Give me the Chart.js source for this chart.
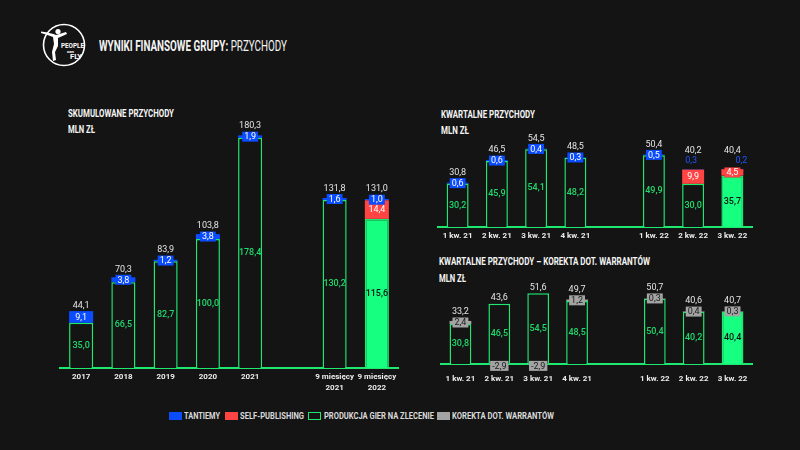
<!DOCTYPE html>
<html><head><meta charset="utf-8">
<script src="https://cdn.jsdelivr.net/npm/chart.js@4.4.1/dist/chart.umd.min.js"></script>
<style>
html,body{margin:0;padding:0;background:#141414;width:800px;height:450px;overflow:hidden;}
.t{position:absolute;color:#f4f4f4;font-family:Roboto,'Liberation Sans',sans-serif;font-weight:bold;white-space:nowrap;line-height:1;transform-origin:0 0;}
.lg{position:absolute;top:411.5px;height:8.5px;}
.lt{position:absolute;top:411.5px;color:#dadada;font-family:Roboto,'Liberation Sans',sans-serif;font-weight:bold;font-size:8.2px;line-height:1;white-space:nowrap;transform-origin:0 0;}
canvas{position:absolute;}
</style></head><body>

<svg style="position:absolute;left:34px;top:20px" width="60" height="54" viewBox="34 20 60 54">
  <circle cx="64" cy="45" r="20.5" fill="none" stroke="#fff" stroke-width="1.6"/>
  <path d="M41 31.5 Q52 33 56 35 L66 32 L67 34 L58 38 L58 46 L55 52 L56 60 L53 61 L52 52 L54 44 L53 37 Q48 35 41 33 Z" fill="#fff"/>
  <circle cx="58" cy="31.5" r="2.6" fill="#fff"/>
  <text x="61" y="48.3" textLength="23" lengthAdjust="spacingAndGlyphs" font-family="Roboto, sans-serif" font-weight="bold" font-size="8" fill="#fff">PEOPLE</text>
  <text x="67" y="53" textLength="7" lengthAdjust="spacingAndGlyphs" font-family="Roboto, sans-serif" font-weight="bold" font-size="3.5" fill="#fff">can</text>
  <text x="70" y="59.3" textLength="12" lengthAdjust="spacingAndGlyphs" font-family="Roboto, sans-serif" font-weight="bold" font-size="8" fill="#fff">FLY</text>
</svg>

<div class="t" data-w="188" style="left:99px;top:39px;font-size:14px;">WYNIKI FINANSOWE GRUPY: <span style="font-weight:normal">PRZYCHODY</span></div>

<div class="t" data-w="106" style="left:68px;top:108.7px;font-size:10px;">SKUMULOWANE PRZYCHODY</div>
<div class="t" data-w="27" style="left:68px;top:124.7px;font-size:10px;">MLN ZŁ</div>

<div class="t" data-w="94" style="left:440.7px;top:109.7px;font-size:10px;">KWARTALNE PRZYCHODY</div>
<div class="t" data-w="28" style="left:440.7px;top:126px;font-size:10px;">MLN ZŁ</div>

<div class="t" data-w="211" style="left:439.3px;top:257px;font-size:10px;">KWARTALNE PRZYCHODY – KOREKTA DOT. WARRANTÓW</div>
<div class="t" data-w="27" style="left:439.3px;top:273.7px;font-size:10px;">MLN ZŁ</div>

<canvas id="c1" width="358" height="280" style="left:50px;top:120px;"></canvas>
<canvas id="c2" width="334" height="117" style="left:428px;top:130px;"></canvas>
<canvas id="c3" width="331" height="108" style="left:431px;top:280px;"></canvas>

<div class="lg" style="left:169px;width:13px;background:#0b4cff;"></div>
<div class="lt" data-w="36" style="left:184px;">TANTIEMY</div>
<div class="lg" style="left:225px;width:13px;background:#ff4444;"></div>
<div class="lt" data-w="64" style="left:240px;">SELF-PUBLISHING</div>
<div class="lg" style="left:308px;width:11px;height:6.5px;border:1px solid #1fe870;"></div>
<div class="lt" data-w="110" style="left:324px;">PRODUKCJA GIER NA ZLECENIE</div>
<div class="lg" style="left:437px;width:13px;background:#a3a3a3;"></div>
<div class="lt" data-w="102" style="left:452px;">KOREKTA DOT. WARRANTÓW</div>

<script>
// ---- data ----
const cumCategories = ['2017', '2018', '2019', '2020', '2021', '', ['9 miesięcy', '2021'], ['9 miesięcy', '2022']];
const cumProduction = [35.0, 66.5, 82.7, 100.0, 178.4, null, 130.2, 115.6];
const cumSelfPublishing = [0, 0, 0, 0, 0, null, 0, 14.4];
const cumTantiemy = [9.1, 3.8, 1.2, 3.8, 1.9, null, 1.6, 1.0];
const cumTotals = [44.1, 70.3, 83.9, 103.8, 180.3, null, 131.8, 131.0];

const qCategories = ['1 kw. 21', '2 kw. 21', '3 kw. 21', '4 kw. 21', '', '1 kw. 22', '2 kw. 22', '3 kw. 22'];
const qProduction = [30.2, 45.9, 54.1, 48.2, null, 49.9, 30.0, 35.7];
const qSelfPublishing = [0, 0, 0, 0, null, 0, 9.9, 4.5];
const qTantiemy = [0.6, 0.6, 0.4, 0.3, null, 0.5, 0.3, 0.2];
const qTotals = [30.8, 46.5, 54.5, 48.5, null, 50.4, 40.2, 40.4];

const adjProduction = [30.8, 46.5, 54.5, 48.5, null, 50.4, 40.2, 40.4];
const adjWarrants = [2.4, -2.9, -2.9, 1.2, null, 0.3, 0.4, 0.3];
const adjTotals = [33.2, 43.6, 51.6, 49.7, null, 50.7, 40.6, 40.7];

// ---- text fitting ----
function fitText() {
  document.querySelectorAll('[data-w]').forEach(el => {
    el.style.transform = 'none';
    const w = el.getBoundingClientRect().width;
    if (w > 0) el.style.transform = 'scaleX(' + (parseFloat(el.dataset.w) / w) + ')';
  });
}
fitText();
if (document.fonts && document.fonts.ready) document.fonts.ready.then(fitText);

// ---- styles ----
const BG = '#141414';
const GREEN_LINE = '#1fe870';
const GREEN_FILL = '#17ff80';
const GREEN_TEXT = '#20d86c';
const BLUE = '#0b4cff';
const BLUE_TEXT = '#1f55ff';
const RED = '#ff4444';
const GRAY = '#a3a3a3';

const fmt = v => v.toFixed(1).replace('.', ',');

// plainOffsets: category indices where the tiny royalty value is written as plain text above the bar (value = x shift)
function valueLabels(totals, plainOffsets) {
  return {
    id: 'valueLabels',
    afterDatasetsDraw(chart) {
      const ctx = chart.ctx;
      const last = chart.data.labels.length - 1;
      ctx.save();
      ctx.textAlign = 'center';
      ctx.textBaseline = 'middle';
      for (let i = 0; i <= last; i++) {
        if (totals[i] == null) continue;
        let x = 0, stackTop = Infinity;
        chart.data.datasets.forEach((ds, d) => {
          const v = ds.data[i];
          const el = chart.getDatasetMeta(d).data[i];
          if (v == null || !el) return;
          x = el.x;
          if (v > 0) stackTop = Math.min(stackTop, el.y);
        });
        let top = stackTop;
        const plain = plainOffsets && (i in plainOffsets);
        chart.data.datasets.forEach((ds, d) => {
          const v = ds.data[i];
          const el = chart.getDatasetMeta(d).data[i];
          if (v == null || v === 0 || !el) return;
          const cy = (el.y + el.base) / 2;
          if (ds.kind === 'prod') {
            ctx.font = '500 9px Roboto';
            ctx.fillStyle = i === last ? '#101010' : GREEN_TEXT;
            ctx.fillText(fmt(v), el.x, cy);
          } else if (ds.kind === 'tant' && plain) {
            const py = stackTop - 8.5;
            ctx.font = '9px Roboto';
            ctx.fillStyle = BLUE_TEXT;
            ctx.fillText(fmt(v), el.x + plainOffsets[i], py);
            top = Math.min(top, py - 4.5);
          } else {
            ctx.font = '9px Roboto';
            const w = ctx.measureText(fmt(v)).width + 4;
            ctx.fillStyle = ds.backgroundColor;
            ctx.fillRect(el.x - w / 2, cy - 5, w, 10);
            ctx.fillStyle = ds.kind === 'gray' ? '#1a1a1a' : '#ffffff';
            ctx.fillText(fmt(v), el.x, cy + 0.5);
            if (v > 0) top = Math.min(top, cy - 5);
          }
        });
        ctx.font = '9px Roboto';
        ctx.fillStyle = '#e4e4e4';
        ctx.fillText(fmt(totals[i]), x, top - 5.5);
      }
      ctx.restore();
    }
  };
}

function prodDataset(data) {
  return {
    kind: 'prod', data,
    backgroundColor: c => c.dataIndex === c.chart.data.labels.length - 1 ? GREEN_FILL : BG,
    borderColor: GREEN_LINE, borderWidth: 1.5, borderSkipped: 'bottom'
  };
}

function options(ymax, xHeight, tickPad, barPct) {
  return {
    responsive: false, animation: false,
    layout: { padding: { left: 10, right: 10, top: 0, bottom: 0 } },
    plugins: { legend: { display: false }, tooltip: { enabled: false } },
    datasets: { bar: { categoryPercentage: 1, barPercentage: barPct } },
    scales: {
      x: {
        stacked: true, offset: true,
        grid: { display: false, drawTicks: false },
        border: { display: true, color: GREEN_LINE, width: 2 },
        ticks: { color: '#ececec', font: { family: 'Roboto', size: 8, weight: 'bold', lineHeight: 1.35 }, padding: tickPad, autoSkip: false, maxRotation: 0 },
        afterFit: s => { s.height = xHeight; }
      },
      y: { display: false, stacked: true, min: 0, max: ymax }
    }
  };
}

new Chart(document.getElementById('c1'), {
  type: 'bar',
  data: {
    labels: cumCategories,
    datasets: [
      prodDataset(cumProduction),
      { kind: 'self', data: cumSelfPublishing, backgroundColor: RED },
      { kind: 'tant', data: cumTantiemy, backgroundColor: BLUE }
    ]
  },
  options: options(248 / 1.29, 32, 3.5, 0.57),
  plugins: [valueLabels(cumTotals)]
});

new Chart(document.getElementById('c2'), {
  type: 'bar',
  data: {
    labels: qCategories,
    datasets: [
      prodDataset(qProduction),
      { kind: 'self', data: qSelfPublishing, backgroundColor: RED },
      { kind: 'tant', data: qTantiemy, backgroundColor: BLUE }
    ]
  },
  options: options(97 / 1.438, 20, 4, 0.56),
  plugins: [valueLabels(qTotals, { 6: -2, 7: 9 })]
});

new Chart(document.getElementById('c3'), {
  type: 'bar',
  data: {
    labels: qCategories,
    datasets: [
      prodDataset(adjProduction),
      { kind: 'gray', data: adjWarrants, backgroundColor: GRAY }
    ]
  },
  options: options(84 / 1.297, 24, 10, 0.56),
  plugins: [valueLabels(adjTotals)]
});
</script>
</body></html>
